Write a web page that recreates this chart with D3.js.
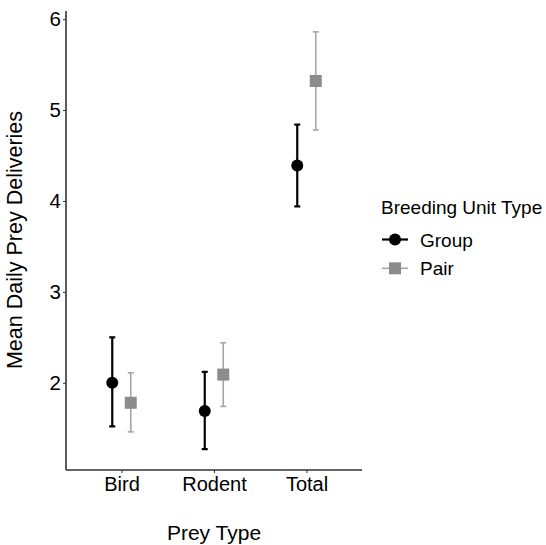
<!DOCTYPE html>
<html><head><meta charset="utf-8">
<script src="https://cdn.jsdelivr.net/npm/d3@7"></script>
<style>body{margin:0;background:#fff;} text{font-family:"Liberation Sans",Arial,sans-serif;}</style>
</head><body>
<svg id="c" width="546" height="545"></svg>
<script>
const categories = ["Bird", "Rodent", "Total"];
const groups = ["Group", "Pair"];
const groupMean = [2.00, 1.69, 4.39];
const groupLower = [1.52, 1.27, 3.94];
const groupUpper = [2.50, 2.12, 4.84];
const pairMean = [1.78, 2.09, 5.32];
const pairLower = [1.46, 1.74, 4.78];
const pairUpper = [2.11, 2.44, 5.86];
const yTicks = [2, 3, 4, 5, 6];

const svg = d3.select("#c");
const L = 66, R = 362, T = 11, B = 470;
const lo = d3.min(groupLower.concat(pairLower)), hi = d3.max(groupUpper.concat(pairUpper));
const pad = (hi - lo) * 0.05;
const y = d3.scaleLinear().domain([lo - pad, hi + pad]).range([B, T]);
// ggplot discrete: positions 1..3 with 0.6 expansion
const xs = d3.scaleLinear().domain([0.4, 3.6]).range([L, R]);
const xPos = c => xs(categories.indexOf(c) + 1);
const dodge = 0.1 * (R - L) / 3.2;

const series = [
  {name: groups[0], mean: groupMean, lower: groupLower, upper: groupUpper, off: -dodge, col: "#000000", barCol: "#000000", bw: 2.2, shape: "circle"},
  {name: groups[1], mean: pairMean, lower: pairLower, upper: pairUpper, off: dodge, col: "#8c8c8c", barCol: "#a6a6a6", bw: 1.6, shape: "square"}
];

// axes
const yAxis = svg.append("g").attr("transform", `translate(${L},0)`)
  .call(d3.axisLeft(y).tickValues(yTicks).tickSize(3).tickPadding(2).tickFormat(d3.format("d")));
yAxis.select(".domain").attr("d", `M0,${T}V${B}`).attr("stroke", "#333").attr("stroke-width", 1.6);
yAxis.selectAll(".tick line").attr("stroke", "#333");
yAxis.selectAll(".tick text").attr("font-size", 20.5).attr("fill", "#000");

const xAxis = svg.append("g").attr("transform", `translate(0,${B})`)
  .call(d3.axisBottom(xs).tickValues([1, 2, 3]).tickSize(3).tickPadding(4).tickFormat(d => categories[d - 1]));
xAxis.select(".domain").attr("d", `M${L},0H${R}`).attr("stroke", "#333").attr("stroke-width", 1.6);
xAxis.selectAll(".tick line").attr("stroke", "#333");
xAxis.selectAll(".tick text").attr("font-size", 20).attr("fill", "#000");

// marks
series.forEach(s => {
  const g = svg.append("g");
  categories.forEach((c, i) => {
    const cx = xPos(c) + s.off;
    g.append("line").attr("x1", cx).attr("x2", cx).attr("y1", y(s.lower[i])).attr("y2", y(s.upper[i]))
      .attr("stroke", s.barCol).attr("stroke-width", s.bw);
    [s.lower[i], s.upper[i]].forEach(v => {
      g.append("line").attr("x1", cx - 3).attr("x2", cx + 3).attr("y1", y(v)).attr("y2", y(v))
        .attr("stroke", s.barCol).attr("stroke-width", s.bw);
    });
    if (s.shape === "circle") {
      g.append("circle").attr("cx", cx).attr("cy", y(s.mean[i])).attr("r", 6).attr("fill", s.col);
    } else {
      g.append("rect").attr("x", cx - 6).attr("y", y(s.mean[i]) - 6).attr("width", 12).attr("height", 12).attr("fill", s.col);
    }
  });
});

// axis titles
svg.append("text").attr("x", (L + R) / 2).attr("y", 540).attr("text-anchor", "middle")
  .attr("font-size", 21).attr("fill", "#000").text("Prey Type");
svg.append("text").attr("transform", `translate(22,240) rotate(-90)`).attr("text-anchor", "middle")
  .attr("font-size", 21.5).attr("fill", "#000").text("Mean Daily Prey Deliveries");

// legend
const lg = svg.append("g");
lg.append("text").attr("x", 381).attr("y", 213.5).attr("font-size", 19).attr("fill", "#000").text("Breeding Unit Type");
series.forEach((s, i) => {
  const cy = 239.5 + i * 28.8;
  lg.append("line").attr("x1", 382).attr("x2", 408).attr("y1", cy).attr("y2", cy).attr("stroke", s.barCol).attr("stroke-width", s.bw);
  if (s.shape === "circle") lg.append("circle").attr("cx", 395).attr("cy", cy).attr("r", 6).attr("fill", s.col);
  else lg.append("rect").attr("x", 389).attr("y", cy - 6).attr("width", 12).attr("height", 12).attr("fill", s.col);
  lg.append("text").attr("x", 420).attr("y", cy + 7).attr("font-size", 19).attr("fill", "#000").text(s.name);
});
</script>
</body></html>
